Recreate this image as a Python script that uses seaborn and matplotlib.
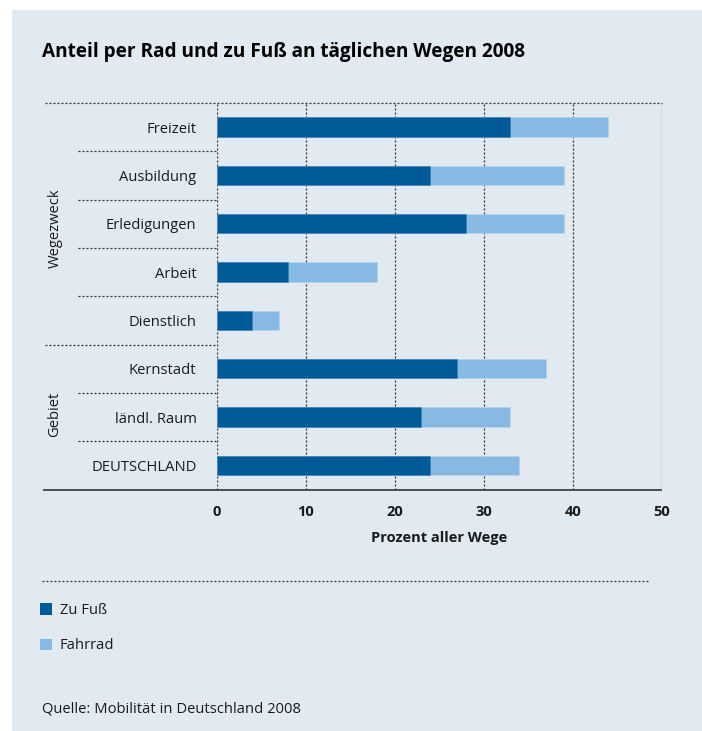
import matplotlib
matplotlib.use("Agg")
import matplotlib.pyplot as plt
from matplotlib.patches import Rectangle, Patch
from matplotlib.lines import Line2D
import seaborn as sns
import pandas as pd

# ---- data ----
categories = ["Freizeit", "Ausbildung", "Erledigungen", "Arbeit", "Dienstlich",
              "Kernstadt", "ländl. Raum", "DEUTSCHLAND"]
zu_fuss = [33, 24, 28, 8, 4, 27, 23, 24]
fahrrad = [11, 15, 11, 10, 3, 10, 10, 10]
x_ticks = [0, 10, 20, 30, 40, 50]
series_names = ["Zu Fuß", "Fahrrad"]
group_names = ["Wegezweck", "Gebiet"]

title = "Anteil per Rad und zu Fuß an täglichen Wegen 2008"
xlabel = "Prozent aller Wege"
source = "Quelle: Mobilität in Deutschland 2008"

# ---- style ----
W, H = 702, 731
BG = "#e1e9f1"
DARK = "#005a96"
LIGHT = "#88b9e3"
LINE = "#333333"
TXT = "#1a1a1a"
FONT = ["Open Sans", "DejaVu Sans"]

sns.set_theme(style="white")
plt.rcParams["font.family"] = FONT

df = pd.DataFrame({"cat": categories, "fuss": zu_fuss, "rad": fahrrad})
df["total"] = df["fuss"] + df["rad"]

fig = plt.figure(figsize=(W / 100, H / 100), dpi=100)
fig.patch.set_facecolor("white")
fig.add_artist(Rectangle((12 / W, 0), (W - 12) / W, (H - 10) / H,
                         transform=fig.transFigure, facecolor=BG,
                         edgecolor="none", zorder=-10))

x0, x1 = 216.7, 661.7
ytop, ybot = 103, 489.5
ax = fig.add_axes([x0 / W, (H - ybot) / H, (x1 - x0) / W, (ybot - ytop) / H])
ax.set_facecolor("none")

sns.barplot(data=df, x="total", y="cat", color=LIGHT, width=0.4, orient="h",
            ax=ax, saturation=1, edgecolor="#b9d4ec", linewidth=0.4, zorder=3)
sns.barplot(data=df, x="fuss", y="cat", color=DARK, width=0.4, orient="h",
            ax=ax, saturation=1, edgecolor="#3f83b8", linewidth=0.4, zorder=4)

ax.set_xlim(0, 50)
ax.set_ylim(len(categories) - 0.5, -0.5)
ax.set_xticks(x_ticks)
ax.set_xticklabels([str(t) for t in x_ticks], fontsize=10.5, fontweight="bold",
                   color=TXT)
ax.tick_params(axis="x", length=0, pad=11)
ax.tick_params(axis="y", length=0, pad=14.5, labelsize=10.6, labelcolor=TXT)
ax.set_ylabel("")
ax.set_xlabel(xlabel, fontsize=10.5, fontweight="bold", color=TXT, labelpad=9)
for s in ax.spines.values():
    s.set_visible(False)

dot = (0, (1.6, 1.6))
ax.grid(axis="x", linestyle=dot, color=LINE, linewidth=0.9, zorder=1)
ax.grid(axis="y", visible=False)

ppu = (x1 - x0) / 50.0  # pixels per unit
def xpix(px):
    return (px - x0) / ppu

# top dotted line and bottom solid line
ax.plot([xpix(45), 50], [-0.5, -0.5], linestyle=dot, color=LINE, lw=0.9,
        clip_on=False, zorder=2)
ax.plot([xpix(43), 50], [len(categories) - 0.5] * 2, color=LINE, lw=1.2,
        clip_on=False, zorder=5, solid_capstyle="butt")
# row separators
for k in range(len(categories) - 1):
    start = xpix(45) if k == 4 else xpix(78)
    ax.plot([start, 0], [k + 0.5, k + 0.5], linestyle=dot, color=LINE, lw=0.9,
            clip_on=False, zorder=2)

# group labels
fig.text(55 / W, 1 - 228 / H, group_names[0], rotation=90, ha="center",
         va="center", fontsize=10.6, color=TXT)
fig.text(55 / W, 1 - 414 / H, group_names[1], rotation=90, ha="center",
         va="center", fontsize=10.6, color=TXT)

# title
fig.text(42 / W, 1 - 57 / H, title, ha="left", va="baseline", fontsize=13.7,
         fontweight="bold", color="#000000")

# legend separator
fig.add_artist(Line2D([42 / W, 648 / W], [1 - 581 / H] * 2,
                      transform=fig.transFigure, linestyle=dot, color=LINE,
                      lw=0.9))

handles = [Patch(facecolor=DARK, edgecolor="none"),
           Patch(facecolor=LIGHT, edgecolor="none")]
leg = fig.legend(handles, series_names, loc="upper left",
                 bbox_to_anchor=(40 / W, 1 - 603 / H), frameon=False,
                 fontsize=10.6, handlelength=0.8, handleheight=0.8,
                 handletextpad=0.55, labelspacing=1.38, borderpad=0,
                 borderaxespad=0)
for t in leg.get_texts():
    t.set_color(TXT)

fig.text(42 / W, 1 - 709 / H, source, ha="left", va="center", fontsize=10.6,
         color=TXT)

fig.savefig("out.png", dpi=100)
